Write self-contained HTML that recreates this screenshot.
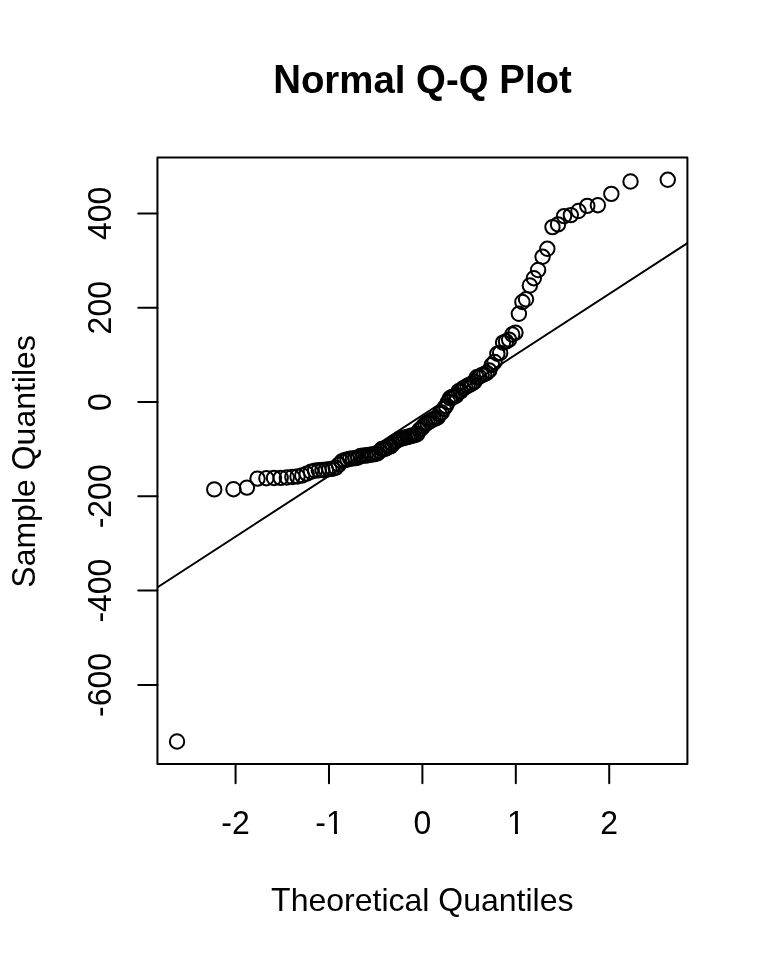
<!DOCTYPE html>
<html><head><meta charset="utf-8"><style>
html,body{margin:0;padding:0;background:#fff;}
body{width:768px;height:960px;overflow:hidden;}
svg{display:block;will-change:transform;}
text{font-family:"Liberation Sans",Arial,Helvetica,sans-serif;fill:#000;}
</style></head><body>
<svg width="768" height="960" viewBox="0 0 768 960">
<defs><clipPath id="pr"><rect x="157.44" y="157.44" width="529.96" height="606.62"/></clipPath></defs>
<rect width="768" height="960" fill="#fff"/>
<g font-size="38.4" font-weight="bold"><text transform="translate(273.187,93) scale(1,1.045)" xml:space="preserve">N</text><text transform="translate(300.906,93)" xml:space="preserve">ormal </text><text transform="translate(416.109,93) scale(1,1.045)" xml:space="preserve">Q</text><text transform="translate(445.969,93)" xml:space="preserve">-</text><text transform="translate(458.766,93) scale(1,1.045)" xml:space="preserve">Q</text><text transform="translate(499.281,93) scale(1,1.045)" xml:space="preserve">P</text><text transform="translate(524.891,93)" xml:space="preserve">lot</text></g>
<g font-size="32"><text transform="translate(271.112,910.9) scale(1,1.045)" xml:space="preserve">T</text><text transform="translate(290.659,910.9)" xml:space="preserve">heoretical </text><text transform="translate(438.300,910.9) scale(1,1.045)" xml:space="preserve">Q</text><text transform="translate(463.191,910.9)" xml:space="preserve">uantiles</text></g>
<g font-size="32"><text transform="translate(34.5,587.689) rotate(-90) scale(1,1.045)" xml:space="preserve">S</text><text transform="translate(34.5,566.345) rotate(-90)" xml:space="preserve">ample </text><text transform="translate(34.5,470.298) rotate(-90) scale(1,1.045)" xml:space="preserve">Q</text><text transform="translate(34.5,445.408) rotate(-90)" xml:space="preserve">uantiles</text></g>
<g font-size="32" text-anchor="middle"><text transform="translate(235.58,833.9) scale(1,1.045)">-2</text><text transform="translate(329.52,833.9) scale(1,1.045)">-1</text><text transform="translate(422.40,833.9) scale(1,1.045)">0</text><text transform="translate(515.85,833.9) scale(1,1.045)">1</text><text transform="translate(609.22,833.9) scale(1,1.045)">2</text><g fill="#fff"><rect x="327" y="830.2" width="7" height="5"/><rect x="337" y="830.2" width="6" height="5"/><rect x="508" y="830.2" width="7" height="5"/><rect x="518" y="830.2" width="6" height="5"/></g><text transform="translate(111.2,684.90) rotate(-90) scale(1,1.045)">-600</text><text transform="translate(111.2,590.60) rotate(-90) scale(1,1.045)">-400</text><text transform="translate(111.2,496.30) rotate(-90) scale(1,1.045)">-200</text><text transform="translate(111.2,402.00) rotate(-90) scale(1,1.045)">0</text><text transform="translate(111.2,307.70) rotate(-90) scale(1,1.045)">200</text><text transform="translate(111.2,213.40) rotate(-90) scale(1,1.045)">400</text></g>
<g stroke="#000" stroke-width="2" fill="none" stroke-linecap="round" stroke-linejoin="round">
<rect x="157.44" y="157.44" width="529.96" height="606.62"/>
<line x1="157.44" y1="684.90" x2="138.24" y2="684.90"/><line x1="157.44" y1="590.60" x2="138.24" y2="590.60"/><line x1="157.44" y1="496.30" x2="138.24" y2="496.30"/><line x1="157.44" y1="402.00" x2="138.24" y2="402.00"/><line x1="157.44" y1="307.70" x2="138.24" y2="307.70"/><line x1="157.44" y1="213.40" x2="138.24" y2="213.40"/><line x1="235.58" y1="764.06" x2="235.58" y2="783.26"/><line x1="328.99" y1="764.06" x2="328.99" y2="783.26"/><line x1="422.40" y1="764.06" x2="422.40" y2="783.26"/><line x1="515.81" y1="764.06" x2="515.81" y2="783.26"/><line x1="609.22" y1="764.06" x2="609.22" y2="783.26"/>
<line x1="150" y1="592.19" x2="695" y2="238.21" clip-path="url(#pr)"/>
<circle cx="177.04" cy="741.50" r="7.2"/>
<circle cx="214.26" cy="489.40" r="7.2"/>
<circle cx="233.46" cy="489.20" r="7.2"/>
<circle cx="246.95" cy="487.60" r="7.2"/>
<circle cx="257.54" cy="478.58" r="7.2"/>
<circle cx="266.36" cy="478.20" r="7.2"/>
<circle cx="273.98" cy="478.04" r="7.2"/>
<circle cx="280.71" cy="477.88" r="7.2"/>
<circle cx="286.79" cy="477.48" r="7.2"/>
<circle cx="292.33" cy="477.00" r="7.2"/>
<circle cx="297.46" cy="476.49" r="7.2"/>
<circle cx="302.23" cy="475.45" r="7.2"/>
<circle cx="306.71" cy="473.65" r="7.2"/>
<circle cx="310.94" cy="471.81" r="7.2"/>
<circle cx="314.95" cy="470.73" r="7.2"/>
<circle cx="318.77" cy="470.28" r="7.2"/>
<circle cx="322.42" cy="470.02" r="7.2"/>
<circle cx="325.93" cy="469.77" r="7.2"/>
<circle cx="329.31" cy="469.09" r="7.2"/>
<circle cx="332.57" cy="468.72" r="7.2"/>
<circle cx="335.72" cy="467.75" r="7.2"/>
<circle cx="338.78" cy="464.59" r="7.2"/>
<circle cx="341.75" cy="461.46" r="7.2"/>
<circle cx="344.64" cy="460.27" r="7.2"/>
<circle cx="347.46" cy="459.51" r="7.2"/>
<circle cx="350.22" cy="458.81" r="7.2"/>
<circle cx="352.91" cy="458.39" r="7.2"/>
<circle cx="355.54" cy="458.17" r="7.2"/>
<circle cx="358.12" cy="457.57" r="7.2"/>
<circle cx="360.66" cy="455.93" r="7.2"/>
<circle cx="363.15" cy="455.60" r="7.2"/>
<circle cx="365.59" cy="455.46" r="7.2"/>
<circle cx="368.00" cy="455.19" r="7.2"/>
<circle cx="370.38" cy="454.81" r="7.2"/>
<circle cx="372.72" cy="454.38" r="7.2"/>
<circle cx="375.03" cy="453.95" r="7.2"/>
<circle cx="377.31" cy="453.42" r="7.2"/>
<circle cx="379.57" cy="451.51" r="7.2"/>
<circle cx="381.80" cy="448.98" r="7.2"/>
<circle cx="384.00" cy="448.84" r="7.2"/>
<circle cx="386.19" cy="448.50" r="7.2"/>
<circle cx="388.36" cy="446.60" r="7.2"/>
<circle cx="390.50" cy="446.42" r="7.2"/>
<circle cx="392.64" cy="444.11" r="7.2"/>
<circle cx="394.75" cy="441.92" r="7.2"/>
<circle cx="396.85" cy="440.78" r="7.2"/>
<circle cx="398.94" cy="439.29" r="7.2"/>
<circle cx="401.02" cy="438.46" r="7.2"/>
<circle cx="403.09" cy="438.22" r="7.2"/>
<circle cx="405.15" cy="437.52" r="7.2"/>
<circle cx="407.19" cy="437.10" r="7.2"/>
<circle cx="409.24" cy="436.48" r="7.2"/>
<circle cx="411.27" cy="435.82" r="7.2"/>
<circle cx="413.30" cy="435.45" r="7.2"/>
<circle cx="415.33" cy="434.92" r="7.2"/>
<circle cx="417.35" cy="433.99" r="7.2"/>
<circle cx="419.37" cy="430.02" r="7.2"/>
<circle cx="421.39" cy="428.44" r="7.2"/>
<circle cx="423.41" cy="426.15" r="7.2"/>
<circle cx="425.43" cy="423.91" r="7.2"/>
<circle cx="427.45" cy="422.79" r="7.2"/>
<circle cx="429.47" cy="421.53" r="7.2"/>
<circle cx="431.50" cy="420.13" r="7.2"/>
<circle cx="433.53" cy="419.26" r="7.2"/>
<circle cx="435.56" cy="418.41" r="7.2"/>
<circle cx="437.61" cy="417.46" r="7.2"/>
<circle cx="439.65" cy="414.01" r="7.2"/>
<circle cx="441.71" cy="412.55" r="7.2"/>
<circle cx="443.78" cy="408.70" r="7.2"/>
<circle cx="445.86" cy="405.93" r="7.2"/>
<circle cx="447.95" cy="402.00" r="7.2"/>
<circle cx="450.05" cy="398.13" r="7.2"/>
<circle cx="452.16" cy="396.87" r="7.2"/>
<circle cx="454.30" cy="396.70" r="7.2"/>
<circle cx="456.44" cy="395.36" r="7.2"/>
<circle cx="458.61" cy="391.30" r="7.2"/>
<circle cx="460.80" cy="391.22" r="7.2"/>
<circle cx="463.00" cy="388.36" r="7.2"/>
<circle cx="465.23" cy="387.25" r="7.2"/>
<circle cx="467.49" cy="385.74" r="7.2"/>
<circle cx="469.77" cy="384.65" r="7.2"/>
<circle cx="472.08" cy="383.57" r="7.2"/>
<circle cx="474.42" cy="381.63" r="7.2"/>
<circle cx="476.80" cy="377.23" r="7.2"/>
<circle cx="479.21" cy="376.70" r="7.2"/>
<circle cx="481.65" cy="375.08" r="7.2"/>
<circle cx="484.14" cy="374.30" r="7.2"/>
<circle cx="486.68" cy="372.90" r="7.2"/>
<circle cx="489.26" cy="370.52" r="7.2"/>
<circle cx="491.89" cy="364.90" r="7.2"/>
<circle cx="494.58" cy="362.00" r="7.2"/>
<circle cx="497.34" cy="353.70" r="7.2"/>
<circle cx="500.16" cy="353.00" r="7.2"/>
<circle cx="503.05" cy="342.60" r="7.2"/>
<circle cx="506.02" cy="341.40" r="7.2"/>
<circle cx="509.08" cy="339.60" r="7.2"/>
<circle cx="512.23" cy="334.50" r="7.2"/>
<circle cx="515.49" cy="332.60" r="7.2"/>
<circle cx="518.87" cy="313.80" r="7.2"/>
<circle cx="522.38" cy="302.00" r="7.2"/>
<circle cx="526.03" cy="299.30" r="7.2"/>
<circle cx="529.85" cy="285.50" r="7.2"/>
<circle cx="533.86" cy="278.20" r="7.2"/>
<circle cx="538.09" cy="270.00" r="7.2"/>
<circle cx="542.57" cy="256.80" r="7.2"/>
<circle cx="547.34" cy="248.80" r="7.2"/>
<circle cx="552.47" cy="227.10" r="7.2"/>
<circle cx="558.01" cy="224.40" r="7.2"/>
<circle cx="564.09" cy="216.10" r="7.2"/>
<circle cx="570.82" cy="215.10" r="7.2"/>
<circle cx="578.44" cy="211.00" r="7.2"/>
<circle cx="587.26" cy="205.90" r="7.2"/>
<circle cx="597.85" cy="205.20" r="7.2"/>
<circle cx="611.34" cy="193.90" r="7.2"/>
<circle cx="630.54" cy="181.50" r="7.2"/>
<circle cx="667.76" cy="179.80" r="7.2"/>
</g>
</svg>
</body></html>
